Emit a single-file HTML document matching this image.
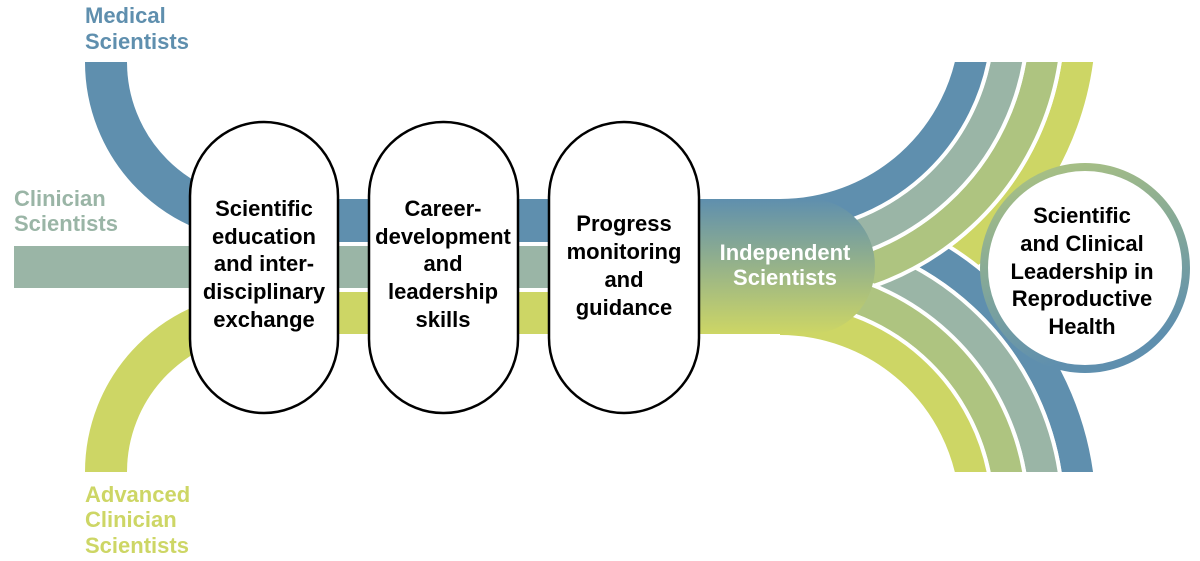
<!DOCTYPE html>
<html><head><meta charset="utf-8"><style>
html,body{margin:0;padding:0;background:#fff;}
svg{display:block;}
text{font-family:"Liberation Sans",Arial,sans-serif;font-weight:bold;font-size:22px;}
</style></head><body>
<svg width="1200" height="561" viewBox="0 0 1200 561" xmlns="http://www.w3.org/2000/svg">
<defs>
<linearGradient id="gv" x1="0" y1="0" x2="0" y2="1"><stop offset="0" stop-color="#5f8fae"/><stop offset="1" stop-color="#cdd665"/></linearGradient>
<linearGradient id="gc" x1="0" y1="0" x2="0.3" y2="1"><stop offset="0" stop-color="#aec480"/><stop offset="1" stop-color="#5f8fae"/></linearGradient>
<clipPath id="cl"><rect x="0" y="62" width="1200" height="410"/></clipPath>
</defs>
<path d="M106,62 A159,159 0 0 0 265,221" fill="none" stroke="#5f8fae" stroke-width="42"/>
<path d="M106,472 A159,159 0 0 1 265,313" fill="none" stroke="#cdd665" stroke-width="42"/>
<rect x="250" y="199" width="460" height="43" fill="#5f8fae"/>
<rect x="14" y="246" width="696" height="42" fill="#9ab5a6"/>
<rect x="250" y="292" width="460" height="42" fill="#cdd665"/>
<g clip-path="url(#cl)" fill="none">
<path d="M780,319.5 A300.5,300.5 0 0 0 1079.8,40" stroke="#fff" stroke-width="39"/>
<path d="M780,319.5 A300.5,300.5 0 0 0 1079.8,40" stroke="#cdd665" stroke-width="31"/>
<path d="M780,215.5 A300.5,300.5 0 0 1 1079.8,494" stroke="#fff" stroke-width="39"/>
<path d="M780,215.5 A300.5,300.5 0 0 1 1079.8,494" stroke="#5f8fae" stroke-width="31"/>
<path d="M780,250.5 A265.5,265.5 0 0 1 1044.7,494" stroke="#fff" stroke-width="39"/>
<path d="M780,250.5 A265.5,265.5 0 0 1 1044.7,494" stroke="#9ab5a6" stroke-width="31"/>
<path d="M780,284.5 A265.5,265.5 0 0 0 1044.7,40" stroke="#fff" stroke-width="39"/>
<path d="M780,284.5 A265.5,265.5 0 0 0 1044.7,40" stroke="#aec480" stroke-width="31"/>
<path d="M780,249.5 A230.5,230.5 0 0 0 1009.5,40" stroke="#fff" stroke-width="39"/>
<path d="M780,249.5 A230.5,230.5 0 0 0 1009.5,40" stroke="#9ab5a6" stroke-width="31"/>
<path d="M780,214.5 A195.5,195.5 0 0 0 974.4,40" stroke="#fff" stroke-width="39"/>
<path d="M780,214.5 A195.5,195.5 0 0 0 974.4,40" stroke="#5f8fae" stroke-width="31"/>
<path d="M780,284.5 A230.5,230.5 0 0 1 1009.5,494" stroke="#fff" stroke-width="39"/>
<path d="M780,284.5 A230.5,230.5 0 0 1 1009.5,494" stroke="#aec480" stroke-width="31"/>
<path d="M780,319.5 A195.5,195.5 0 0 1 974.4,494" stroke="#fff" stroke-width="39"/>
<path d="M780,319.5 A195.5,195.5 0 0 1 974.4,494" stroke="#cdd665" stroke-width="31"/>
</g>
<path d="M690,199 H810 A65,67.5 0 0 1 810,334 H690 Z" fill="url(#gv)"/>
<g fill="#fff" stroke="#000" stroke-width="2.5">
<rect x="190" y="122" width="148" height="291" rx="74" ry="74"/>
<rect x="369" y="122" width="149" height="291" rx="74" ry="74"/>
<rect x="549" y="122" width="150" height="291" rx="75" ry="75"/>
</g>
<g text-anchor="middle" fill="#000">
<text x="264" y="216">Scientific</text><text x="264" y="244">education</text><text x="264" y="271">and inter-</text><text x="264" y="299">disciplinary</text><text x="264" y="327">exchange</text>
<text x="443" y="216">Career-</text><text x="443" y="244">development</text><text x="443" y="271">and</text><text x="443" y="299">leadership</text><text x="443" y="327">skills</text>
<text x="624" y="231">Progress</text><text x="624" y="259">monitoring</text><text x="624" y="287">and</text><text x="624" y="315">guidance</text>
</g>
<g text-anchor="middle" fill="#fff">
<text x="785" y="260">Independent</text><text x="785" y="285">Scientists</text>
</g>
<circle cx="1085" cy="268" r="101" fill="#fff" stroke="url(#gc)" stroke-width="8"/>
<g text-anchor="middle" fill="#000">
<text x="1082" y="223">Scientific</text><text x="1082" y="251">and Clinical</text><text x="1082" y="279">Leadership in</text><text x="1082" y="306">Reproductive</text><text x="1082" y="334">Health</text>
</g>
<g fill="#5f8fae"><text x="85" y="23">Medical</text><text x="85" y="49">Scientists</text></g>
<g fill="#9ab5a6"><text x="14" y="206">Clinician</text><text x="14" y="231">Scientists</text></g>
<g fill="#cdd665"><text x="85" y="502">Advanced</text><text x="85" y="527">Clinician</text><text x="85" y="553">Scientists</text></g>
</svg>
</body></html>
